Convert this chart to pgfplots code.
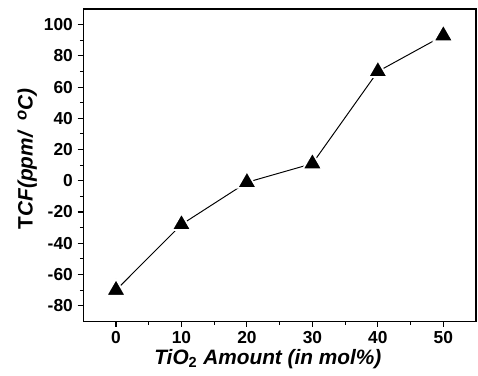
\documentclass[border=0pt]{standalone}
\usepackage{fontspec}
\setmainfont{Liberation Sans}
\usepackage{pgfplots}
\pgfplotsset{compat=1.18}
\usetikzlibrary{calc}
\begin{document}
\begin{tikzpicture}
\begin{axis}[
  scale only axis,
  width=283pt, height=225pt,
  xmin=-5, xmax=55, ymin=-90, ymax=110,
  xtick={0,10,20,30,40,50},
  ytick={-80,-60,-40,-20,0,20,40,60,80,100},
  minor x tick num=1, minor y tick num=1,
  xtick pos=bottom, ytick pos=left,
  tick align=outside,
  major tick length=4pt, minor tick length=2.5pt,
  axis line style={line width=1pt},
  every tick/.style={black, line width=0.8pt},
  /pgf/number format/assume math mode=true,
  tick label style={font=\fontsize{12.5}{14}\selectfont\bfseries},
  xlabel={\fontsize{15}{18}\selectfont\bfseries\itshape TiO$_{\mathbf{2}}$ Amount (in mol\%)},
  ylabel={\fontsize{15}{18}\selectfont\bfseries T\itshape CF(ppm/\ \ \raisebox{0.55ex}{\fontsize{12}{14}\selectfont o}C)},
  xlabel style={at={(axis description cs:0.47,-0.12)}, anchor=center},
  ylabel style={at={(axis description cs:-0.1425,0.52)}, anchor=center},
  clip=false,
]
\addplot[black, line width=0.7pt, mark=triangle*, mark size=8pt,
  mark options={fill=black, draw=white, line width=1.2pt}]
  coordinates {(0,-70) (10,-28) (20,-1) (30,11) (40,70) (50,93)};
\end{axis}
\pgfresetboundingbox
\path ($(current axis.south west)+(-60pt,-39pt)$) rectangle ($(current axis.north east)+(1.4pt,6.5pt)$);
\end{tikzpicture}
\end{document}
